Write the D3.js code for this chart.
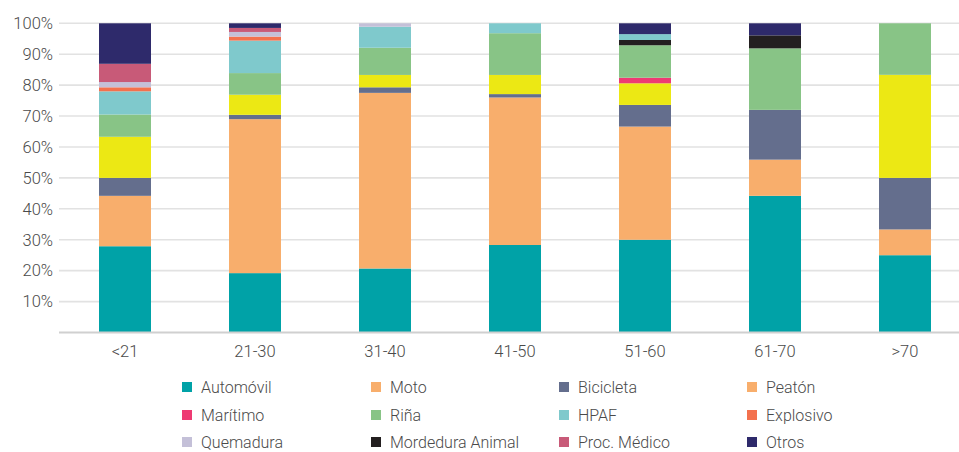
<!DOCTYPE html>
<html><head><meta charset="utf-8">
<script src="https://cdn.jsdelivr.net/npm/d3@7"></script>
<style>
body{margin:0;background:#fff;}
text{font-family:Roboto, "Noto Sans", sans-serif;font-weight:300;fill:#4a4a4a;}
</style></head>
<body><svg id="c" width="959" height="452"></svg>
<script>
const categories = ["<21","21-30","31-40","41-50","51-60","61-70",">70"];
const seriesNames = ["Automóvil","Moto","Bicicleta","Peatón","Marítimo","Riña","HPAF","Explosivo","Quemadura","Mordedura Animal","Proc. Médico","Otros"];
const stackOrder = ["Automóvil","Moto","Bicicleta","Peatón","Marítimo","Riña","Mordedura Animal","HPAF","Explosivo","Quemadura","Proc. Médico","Otros"];
const automovil = [27.9,19.2,20.7,28.3,30.0,44.2,25.0];
const moto      = [16.3,49.8,56.8,47.7,36.6,11.7,8.33];
const bicicleta = [5.8,1.4,1.8,1.1,7.0,16.1,16.67];
const peaton    = [13.3,6.5,4.0,6.2,7.0,0,33.33];
const maritimo  = [0,0,0,0,1.8,0,0];
const rina      = [7.2,7.0,8.8,13.5,10.5,19.9,16.67];
const hpaf      = [7.5,10.5,6.8,3.2,1.9,0,0];
const explosivo = [1.3,1.3,0,0,0,0,0];
const quemadura = [1.7,1.5,1.1,0,0,0,0];
const mordedura = [0,0,0,0,1.7,4.2,0];
const procMedico= [5.9,1.3,0,0,0,0,0];
const otros     = [13.1,1.5,0,0,3.5,3.9,0];
const yTicks = [10,20,30,40,50,60,70,80,90,100];

const seriesValues = {"Automóvil":automovil,"Moto":moto,"Bicicleta":bicicleta,"Peatón":peaton,"Marítimo":maritimo,"Riña":rina,"HPAF":hpaf,"Explosivo":explosivo,"Quemadura":quemadura,"Mordedura Animal":mordedura,"Proc. Médico":procMedico,"Otros":otros};
const barColors = {"Automóvil":"#00A2A7","Moto":"#F8AE6C","Bicicleta":"#646E8D","Peatón":"#ECE814","Marítimo":"#EE3A73","Riña":"#88C486","HPAF":"#7FC9CC","Explosivo":"#F3714E","Quemadura":"#C4C0D8","Mordedura Animal":"#231F20","Proc. Médico":"#C85A78","Otros":"#2E2A6B"};
const legendColors = Object.assign({}, barColors, {"Peatón":"#F8AE6C"});

const table = categories.map((c,i)=>{const o={cat:c}; seriesNames.forEach(s=>o[s]=seriesValues[s][i]); return o;});
const stacked = d3.stack().keys(stackOrder)(table);

const svg = d3.select("#c");
const x = d3.scaleBand().domain(categories).range([60,970]).paddingInner(0.6).paddingOuter(0.3);
const y = d3.scaleLinear().domain([0,100]).range([332.5,23.3]);

// gridlines
svg.append("g").selectAll("line").data(yTicks).join("line")
  .attr("x1",59).attr("x2",959).attr("y1",d=>y(d)).attr("y2",d=>y(d))
  .attr("stroke","#e2e2e2").attr("stroke-width",1.6);

// bars
svg.append("g").selectAll("g").data(stacked).join("g")
  .attr("fill",d=>barColors[d.key])
  .selectAll("rect").data(d=>d).join("rect")
  .attr("x",d=>x(d.data.cat)).attr("width",x.bandwidth())
  .attr("y",d=>y(d[1])).attr("height",d=>Math.max(0,y(d[0])-y(d[1])));

// baseline
svg.append("line").attr("x1",59).attr("x2",959).attr("y1",y(0)).attr("y2",y(0))
  .attr("stroke","#d0d0d0").attr("stroke-width",2);

// y labels
svg.append("g").selectAll("text").data(yTicks).join("text")
  .attr("x",53).attr("y",d=>y(d)).attr("dy","0.35em").attr("text-anchor","end")
  .style("font-size","16.5px").text(d=>d+"%");

// x labels
svg.append("g").selectAll("text").data(categories).join("text")
  .attr("x",d=>x(d)+x.bandwidth()/2).attr("y",357).attr("text-anchor","middle")
  .style("font-size","16.5px").text(d=>d);

// legend
const colX = [182,371,559,747], rowY = [387,415,442];
const lg = svg.append("g").selectAll("g").data(seriesNames).join("g")
  .attr("transform",(d,i)=>`translate(${colX[i%4]},${rowY[Math.floor(i/4)]})`);
lg.append("rect").attr("x",0).attr("y",-5).attr("width",10).attr("height",10).attr("fill",d=>legendColors[d]);
lg.append("text").attr("x",19).attr("y",0).attr("dy","0.35em").style("font-size","16px").text(d=>d);
</script></body></html>
